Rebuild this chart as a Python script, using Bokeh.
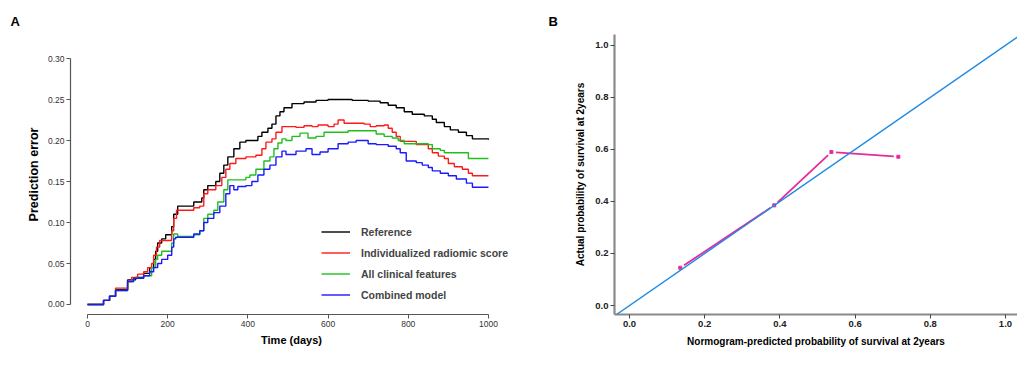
import math
from bokeh.plotting import figure
from bokeh.layouts import row
from bokeh.models import (FixedTicker, PrintfTickFormatter, Legend, LegendItem,
                          Slope, Range1d)
from bokeh.embed import file_html
from bokeh.resources import INLINE

# ---------------- Data: panel A (prediction error curves) ----------------
ref_t = [0, 40, 55, 70, 100, 120, 140, 155, 165, 170, 175, 185, 195, 210, 215, 225, 265, 285, 290, 300,
         320, 330, 340, 350, 365, 380, 395, 425, 435, 450, 460, 470, 480, 490, 510, 540, 570, 600, 660,
         700, 730, 750, 770, 790, 810, 840, 860, 870, 890, 905, 925, 945, 960, 1000]
ref_v = [0, 0.005, 0.01, 0.018, 0.03, 0.033, 0.038, 0.045, 0.055, 0.065, 0.075, 0.08, 0.085, 0.095, 0.11,
         0.12, 0.125, 0.13, 0.14, 0.145, 0.15, 0.16, 0.17, 0.18, 0.19, 0.198, 0.2, 0.205, 0.21, 0.215, 0.22,
         0.23, 0.235, 0.24, 0.245, 0.247, 0.249, 0.25, 0.249, 0.248, 0.246, 0.243, 0.24, 0.235, 0.232, 0.23,
         0.226, 0.222, 0.217, 0.213, 0.21, 0.206, 0.202, 0.201]

rad_t = [0, 40, 55, 70, 100, 110, 125, 140, 150, 160, 165, 172, 180, 210, 215, 222, 265, 280, 290, 300,
         320, 335, 345, 355, 370, 395, 420, 435, 445, 460, 470, 485, 520, 540, 560, 575, 600, 615, 625, 640,
         690, 705, 720, 740, 750, 760, 770, 780, 820, 850, 860, 875, 890, 900, 915, 935, 950, 960, 1000]
rad_v = [0, 0.005, 0.01, 0.02, 0.028, 0.033, 0.037, 0.04, 0.045, 0.05, 0.06, 0.07, 0.078, 0.09, 0.105,
         0.115, 0.118, 0.12, 0.135, 0.14, 0.145, 0.155, 0.165, 0.172, 0.178, 0.18, 0.182, 0.19, 0.198, 0.202,
         0.21, 0.217, 0.216, 0.218, 0.217, 0.219, 0.217, 0.22, 0.225, 0.221, 0.22, 0.217, 0.218, 0.219, 0.215,
         0.21, 0.205, 0.199, 0.195, 0.19, 0.185, 0.181, 0.178, 0.172, 0.168, 0.165, 0.16, 0.157, 0.157]

cli_t = [0, 40, 55, 70, 100, 115, 140, 160, 170, 175, 185, 210, 215, 225, 265, 280, 290, 300, 315, 325,
         340, 350, 370, 395, 405, 420, 440, 455, 465, 475, 485, 495, 510, 530, 550, 570, 590, 650, 720, 740,
         760, 775, 790, 850, 860, 880, 890, 950, 1000]
cli_v = [0, 0.005, 0.01, 0.017, 0.028, 0.032, 0.035, 0.045, 0.055, 0.06, 0.065, 0.075, 0.086, 0.083, 0.085,
         0.09, 0.105, 0.11, 0.115, 0.125, 0.14, 0.152, 0.152, 0.155, 0.158, 0.165, 0.175, 0.18, 0.19, 0.197,
         0.202, 0.2, 0.205, 0.209, 0.203, 0.205, 0.21, 0.212, 0.208, 0.205, 0.203, 0.2, 0.196, 0.195, 0.19,
         0.188, 0.185, 0.178, 0.178]

com_t = [0, 40, 55, 70, 100, 115, 140, 155, 165, 175, 185, 200, 210, 215, 220, 265, 280, 290, 300, 315,
         330, 345, 355, 365, 375, 395, 410, 425, 440, 455, 470, 485, 495, 520, 545, 560, 580, 600, 625, 650,
         670, 700, 720, 750, 770, 780, 795, 820, 835, 850, 860, 880, 900, 920, 945, 960, 1000]
com_v = [0, 0.005, 0.01, 0.017, 0.028, 0.032, 0.035, 0.04, 0.045, 0.05, 0.055, 0.06, 0.07, 0.08, 0.082,
         0.086, 0.09, 0.1, 0.105, 0.112, 0.12, 0.135, 0.145, 0.14, 0.144, 0.145, 0.15, 0.158, 0.165, 0.17,
         0.18, 0.187, 0.183, 0.187, 0.19, 0.183, 0.186, 0.19, 0.196, 0.198, 0.2, 0.196, 0.195, 0.193, 0.19,
         0.185, 0.175, 0.173, 0.17, 0.167, 0.163, 0.16, 0.157, 0.153, 0.148, 0.143, 0.143]

series_names = ["Reference", "Individualized radiomic score", "All clinical features", "Combined model"]
x_ticks_a = [0, 200, 400, 600, 800, 1000]
y_ticks_a = [0.0, 0.05, 0.10, 0.15, 0.20, 0.25, 0.30]

# ---------------- Data: panel B (calibration) ----------------
pred_prob = [0.135, 0.385, 0.537, 0.715]
actual_prob = [0.145, 0.385, 0.59, 0.572]
ticks_b = [0.0, 0.2, 0.4, 0.6, 0.8, 1.0]

FONT = "Liberation Sans"
H = 349
TOP, BOTTOM = 34, 35


def panel_title(p, letter, offset):
    p.title.text = letter
    p.title.align = "left"
    p.title.offset = offset
    p.title.text_font = FONT
    p.title.text_font_style = "bold"
    p.title.text_font_size = "13px"
    p.title.text_color = "black"
    p.title.standoff = 12


# ================= Panel A =================
pa = figure(width=512, height=H, output_backend="svg", toolbar_location=None,
            x_range=Range1d(-42.4, 1060), y_range=Range1d(-0.0122, 0.3293),
            min_border_left=70, min_border_right=0, min_border_top=TOP, min_border_bottom=BOTTOM)
pa.outline_line_color = None
pa.grid.visible = False
panel_title(pa, "A", -60)

colors_a = ["black", "#ff1a1a", "#1ec01e", "#1a1aff"]
data_a = [(ref_t, ref_v), (rad_t, rad_v), (cli_t, cli_v), (com_t, com_v)]
renderers = []
for (t, v), c in zip(data_a, colors_a):
    r = pa.step(t, v, mode="after", line_color=c, line_width=1.4)
    renderers.append(r)

for ax in (pa.xaxis[0], pa.yaxis[0]):
    ax.axis_line_color = "#555555"
    ax.axis_line_width = 1.2
    ax.major_tick_line_color = "#555555"
    ax.major_tick_out = 4
    ax.major_tick_in = 0
    ax.minor_tick_line_color = None
    ax.major_label_text_font = FONT
    ax.major_label_text_font_size = "8.5px"
    ax.major_label_text_color = "#333333"
    ax.axis_label_text_font = FONT
    ax.axis_label_text_font_style = "bold"
    ax.axis_label_text_color = "black"
    ax.major_label_standoff = 2

pa.xaxis[0].ticker = FixedTicker(ticks=x_ticks_a)
pa.xaxis[0].bounds = (x_ticks_a[0], x_ticks_a[-1])
pa.xaxis[0].formatter = PrintfTickFormatter(format="%d")
pa.xaxis[0].axis_label = "Time (days)"
pa.xaxis[0].axis_label_text_font_size = "11px"
pa.xaxis[0].axis_label_standoff = 4

pa.yaxis[0].ticker = FixedTicker(ticks=y_ticks_a)
pa.yaxis[0].bounds = (y_ticks_a[0], y_ticks_a[-1])
pa.yaxis[0].formatter = PrintfTickFormatter(format="%.2f")
pa.yaxis[0].axis_label = "Prediction error"
pa.yaxis[0].axis_label_text_font_size = "12.5px"
pa.yaxis[0].axis_label_standoff = 4

legend = Legend(items=[LegendItem(label=n, renderers=[r]) for n, r in zip(series_names, renderers)],
                location=(251, 9), padding=0, margin=0, spacing=0,
                label_height=21, glyph_height=21, glyph_width=29, label_standoff=11,
                label_text_font=FONT, label_text_font_size="10.5px", label_text_font_style="bold",
                border_line_color=None, background_fill_alpha=0)
pa.add_layout(legend)

# ================= Panel B =================
pb = figure(width=505, height=H, output_backend="svg", toolbar_location=None,
            x_range=Range1d(-0.040, 1.032), y_range=Range1d(-0.0346, 1.042),
            min_border_left=102, min_border_right=0, min_border_top=TOP, min_border_bottom=BOTTOM)
pb.outline_line_color = None
pb.grid.visible = False
panel_title(pb, "B", -66)

pb.add_layout(Slope(gradient=1, y_intercept=0, line_color="#1e8ae6", line_width=1.4))

# Points joined by lines with small gaps at each point (R type="b" style)
px_per_x, px_per_y, gap_px = 376.0, 260.0, 4.5
xs, ys = [], []
for i in range(len(pred_prob) - 1):
    x0, y0, x1, y1 = pred_prob[i], actual_prob[i], pred_prob[i + 1], actual_prob[i + 1]
    dxp, dyp = (x1 - x0) * px_per_x, (y1 - y0) * px_per_y
    f = gap_px / math.hypot(dxp, dyp)
    xs.append([x0 + (x1 - x0) * f, x1 - (x1 - x0) * f])
    ys.append([y0 + (y1 - y0) * f, y1 - (y1 - y0) * f])
pb.multi_line(xs, ys, line_color="#e62a9c", line_width=1.8)
pb.scatter(pred_prob, actual_prob, marker="square", size=3, color="#e62a9c")

for ax in (pb.xaxis[0], pb.yaxis[0]):
    ax.axis_line_color = "#8a8a8a"
    ax.axis_line_width = 2.2
    ax.major_tick_line_color = "#444444"
    ax.major_tick_out = 4
    ax.major_tick_in = 0
    ax.minor_tick_line_color = None
    ax.ticker = FixedTicker(ticks=ticks_b)
    ax.formatter = PrintfTickFormatter(format="%.1f")
    ax.major_label_text_font = FONT
    ax.major_label_text_font_style = "bold"
    ax.major_label_text_font_size = "9.5px"
    ax.major_label_text_color = "#222222"
    ax.axis_label_text_font = FONT
    ax.axis_label_text_font_style = "bold"
    ax.axis_label_text_font_size = "10px"
    ax.axis_label_text_color = "black"
    ax.major_label_standoff = 2

pb.xaxis[0].axis_label = "Normogram-predicted probability of survival at 2years"
pb.xaxis[0].axis_label_standoff = 6
pb.yaxis[0].axis_label = "Actual probability of survival at 2years"
pb.yaxis[0].axis_label_standoff = 6

layout = row(pa, pb)
open("out.html", "w").write(file_html(layout, INLINE))
